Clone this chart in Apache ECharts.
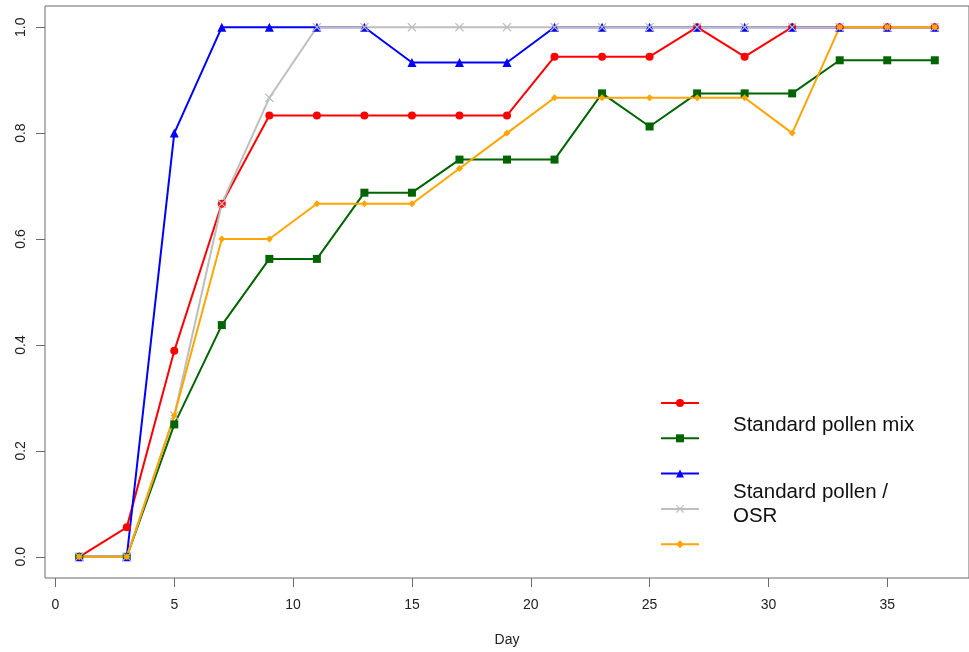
<!DOCTYPE html>
<html>
<head>
<meta charset="utf-8">
<script src="https://cdn.jsdelivr.net/npm/echarts@6/dist/echarts.min.js"></script>
<style>
  html, body { margin: 0; padding: 0; background: #ffffff; }
  #chart { width: 969px; height: 652px; }
</style>
</head>
<body>
<div id="chart"></div>
<script>
// Sampling days (x values)
const days = [1, 3, 5, 7, 9, 11, 13, 15, 17, 19, 21, 23, 25, 27, 29, 31, 33, 35, 37];

// Proportion per group on each day
const redValues    = [0, 0.0556, 0.3889, 0.6667, 0.8333, 0.8333, 0.8333, 0.8333, 0.8333, 0.8333, 0.9444, 0.9444, 0.9444, 1, 0.9444, 1, 1, 1, 1];
const greenValues  = [0, 0, 0.25, 0.4375, 0.5625, 0.5625, 0.6875, 0.6875, 0.75, 0.75, 0.75, 0.875, 0.8125, 0.875, 0.875, 0.875, 0.9375, 0.9375, 0.9375];
const blueValues   = [0, 0, 0.8, 1, 1, 1, 1, 0.9333, 0.9333, 0.9333, 1, 1, 1, 1, 1, 1, 1, 1, 1];
const grayValues   = [0, 0, 0.2667, 0.6667, 0.8667, 1, 1, 1, 1, 1, 1, 1, 1, 1, 1, 1, 1, 1, 1];
const orangeValues = [0, 0, 0.2667, 0.6, 0.6, 0.6667, 0.6667, 0.6667, 0.7333, 0.8, 0.8667, 0.8667, 0.8667, 0.8667, 0.8667, 0.8, 1, 1, 1];

// Axis tick positions
const xTicks = [0, 5, 10, 15, 20, 25, 30, 35];
const yTicks = [0, 0.2, 0.4, 0.6, 0.8, 1.0];

// Legend text lines
const legendText1 = 'Standard pollen mix';
const legendText2 = ['Standard pollen /', 'OSR'];

const axisGray = '#6b6b6b';
const fontFamily = 'Liberation Sans, Arial, sans-serif';
const labelFont = { fontFamily: fontFamily, fontSize: 14, color: '#222' };

const xSymbol = 'path://M0,1 L1,0 L5,4 L9,0 L10,1 L6,5 L10,9 L9,10 L5,6 L1,10 L0,9 L4,5 Z';

function pairs(vals) { return days.map((d, i) => [d, vals[i]]); }

function lineSeries(name, color, vals, symbol, size) {
  return {
    name: name,
    type: 'line',
    data: pairs(vals),
    symbol: symbol,
    symbolSize: size,
    showSymbol: true,
    lineStyle: { color: color, width: 2 },
    itemStyle: { color: color, borderWidth: 0 },
    emphasis: { disabled: true }
  };
}

const chart = echarts.init(document.getElementById('chart'), null, { renderer: 'canvas' });

chart.setOption({
  animation: false,
  backgroundColor: '#ffffff',
  grid: {
    left: 45, top: 6, width: 934, height: 574,
    show: true, borderColor: axisGray, borderWidth: 1, backgroundColor: 'transparent'
  },
  xAxis: {
    type: 'value',
    min: -0.44, max: 38.44,
    name: 'Day',
    nameLocation: 'middle',
    nameGap: 55,
    nameTextStyle: labelFont,
    axisLine: { show: false, onZero: false },
    splitLine: { show: false },
    axisTick: { show: true, length: 9, lineStyle: { color: axisGray }, customValues: xTicks },
    axisLabel: Object.assign({ margin: 20, customValues: xTicks, formatter: v => String(v) }, labelFont)
  },
  yAxis: {
    type: 'value',
    min: -0.04, max: 1.04,
    axisLine: { show: false, onZero: false },
    splitLine: { show: false },
    axisTick: { show: true, length: 9, lineStyle: { color: axisGray }, customValues: yTicks },
    axisLabel: Object.assign({ margin: 17, rotate: 90, customValues: yTicks, formatter: v => v.toFixed(1) }, labelFont)
  },
  legend: {
    orient: 'vertical',
    left: 660, top: 398,
    padding: 0,
    itemWidth: 38, itemHeight: 10, itemGap: 26.3,
    formatter: () => '',
    selectedMode: false,
    data: ['Group A', 'Group B', 'Group C', 'Group D', 'Group E']
  },
  graphic: [
    { type: 'text', left: 733, top: 415, style: { text: legendText1, fontFamily: fontFamily, fontSize: 20.5, fill: '#111' } },
    { type: 'text', left: 733, top: 480, style: { text: legendText2.join('\n'), lineHeight: 24, fontFamily: fontFamily, fontSize: 20.5, fill: '#111' } }
  ],
  series: [
    lineSeries('Group A', '#ff0000', redValues, 'circle', 8),
    lineSeries('Group B', '#006400', greenValues, 'rect', 8),
    lineSeries('Group C', '#0000ff', blueValues, 'triangle', 9),
    lineSeries('Group D', '#bebebe', grayValues, xSymbol, 9),
    lineSeries('Group E', '#ffa500', orangeValues, 'diamond', 7)
  ]
});
</script>
</body>
</html>
